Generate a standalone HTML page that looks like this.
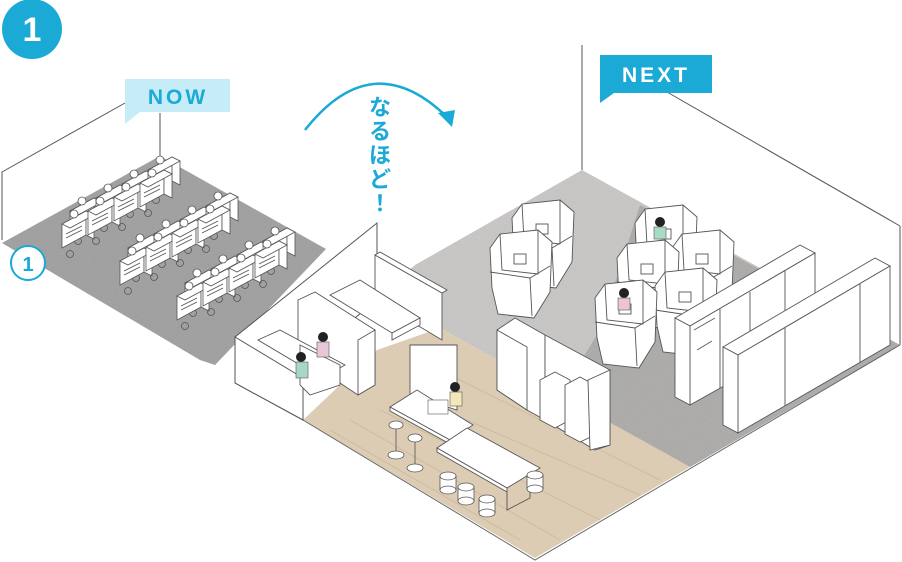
<!DOCTYPE html>
<html><head><meta charset="utf-8"><style>
html,body{margin:0;padding:0;background:#fff;}
svg{display:block;}
text{font-family:"Liberation Sans","Noto Sans CJK JP",sans-serif;}
</style></head><body>
<svg width="902" height="562" viewBox="0 0 902 562" xmlns="http://www.w3.org/2000/svg">
<defs>
<filter id="grain" x="0" y="0" width="100%" height="100%">
<feTurbulence type="fractalNoise" baseFrequency="0.9" numOctaves="2" result="n"/>
<feColorMatrix type="saturate" values="0"/>
<feComponentTransfer><feFuncA type="linear" slope="0.25"/></feComponentTransfer>
<feComposite in2="SourceGraphic" operator="in"/>
</filter>
<g id="cub" stroke="#555" stroke-width="0.8" fill="#fff">
<polygon points="0,0 0,-24 24,-37 24,-13"/>
<polygon points="24,-13 24,-37 32,-33 32,-9"/>
<polygon points="0,-24 8,-20 32,-33 24,-37"/>
<circle cx="12" cy="-34" r="4"/>
<line x1="4" y1="-10" x2="20" y2="-18"/>
<line x1="4" y1="-14" x2="20" y2="-22"/>
<circle cx="8" cy="6" r="3.5" fill="none"/>
</g>
<g id="pod" stroke="#555" stroke-width="0.9" fill="#fff">
<polygon points="0,18 10,4 48,0 62,12 60,62 44,88 8,84 2,58"/>
<polyline points="10,4 12,40 48,44 48,0" fill="none"/>
<polyline points="0,42 40,48 60,36" fill="none"/>
<line x1="40" y1="48" x2="42" y2="86"/>
<rect x="24" y="24" width="12" height="10"/>
</g>
<g id="stool" stroke="#555" stroke-width="0.8" fill="#fff">
<rect x="-8" y="0" width="16" height="14"/>
<ellipse cx="0" cy="0" rx="8" ry="4"/>
<ellipse cx="0" cy="14" rx="8" ry="4"/>
</g>
<g id="hstool" stroke="#555" stroke-width="0.8" fill="#fff">
<line x1="0" y1="0" x2="0" y2="30"/>
<ellipse cx="0" cy="30" rx="8" ry="4"/>
<ellipse cx="0" cy="0" rx="7" ry="4"/>
</g>
</defs>

<circle cx="32" cy="29" r="30" fill="#1ba9d5"/>
<text x="32" y="41" font-size="34" font-weight="bold" fill="#fff" text-anchor="middle">1</text>

<polyline points="2,240 2,172 125,103" fill="none" stroke="#555" stroke-width="1"/>
<line x1="160" y1="113" x2="160" y2="156" stroke="#555" stroke-width="1"/>
<polygon points="2,243 160,156 326,249 215,365 200,360" fill="#9d9d9d"/>
<polygon points="2,243 160,156 326,249 215,365 200,360" fill="#777" filter="url(#grain)"/>

<g>
<use href="#cub" x="70" y="235"/><use href="#cub" x="96" y="222"/><use href="#cub" x="122" y="208"/><use href="#cub" x="148" y="194"/>
<use href="#cub" x="62" y="248"/><use href="#cub" x="88" y="235"/><use href="#cub" x="114" y="221"/><use href="#cub" x="140" y="207"/>
<use href="#cub" x="128" y="272"/><use href="#cub" x="154" y="258"/><use href="#cub" x="180" y="244"/><use href="#cub" x="206" y="230"/>
<use href="#cub" x="120" y="285"/><use href="#cub" x="146" y="271"/><use href="#cub" x="172" y="257"/><use href="#cub" x="198" y="243"/>
<use href="#cub" x="185" y="307"/><use href="#cub" x="211" y="293"/><use href="#cub" x="237" y="279"/><use href="#cub" x="263" y="265"/>
<use href="#cub" x="177" y="320"/><use href="#cub" x="203" y="306"/><use href="#cub" x="229" y="292"/><use href="#cub" x="255" y="278"/>
</g>

<circle cx="28" cy="263" r="17" fill="#fff" stroke="#1ba9d5" stroke-width="2"/>
<text x="28" y="271" font-size="20" font-weight="bold" fill="#1ba9d5" text-anchor="middle">1</text>

<polygon points="125,79 230,79 230,112 140,112 125,124" fill="#c6ecf8"/>
<text x="178" y="104" font-size="21" font-weight="bold" fill="#1ba9d5" text-anchor="middle" letter-spacing="3">NOW</text>

<path d="M305,130 Q372,45 446,116" fill="none" stroke="#1ba9d5" stroke-width="2.5"/>
<polygon points="438,113 455,110 452,127" fill="#1ba9d5"/>
<g font-size="22" font-weight="bold" fill="#1ba9d5" text-anchor="middle">
<text x="380" y="115">な</text>
<text x="380" y="139">る</text>
<text x="380" y="163">ほ</text>
<text x="380" y="187">ど</text>
<text x="380" y="211">！</text>
</g>

<line x1="582" y1="45" x2="582" y2="170" stroke="#555" stroke-width="1"/>
<line x1="667" y1="92" x2="900" y2="226" stroke="#555" stroke-width="1"/>
<line x1="900" y1="226" x2="900" y2="345" stroke="#555" stroke-width="1"/>

<polygon points="582,170 900,345 690,467 440,328 377,300 415,265" fill="#c9c7c5"/>
<polygon points="640,205 900,345 690,467 560,395 600,330" fill="#aaa9a8"/>
<polygon points="582,170 900,345 690,467 440,328 377,300 415,265" fill="#666" filter="url(#grain)"/>
<polygon points="440,328 690,467 535,558 303,420 377,350" fill="#dcccb4"/>
<g stroke="#c7b598" stroke-width="1" opacity="0.7">
<line x1="330" y1="430" x2="520" y2="540"/><line x1="350" y1="420" x2="560" y2="540"/>
<line x1="380" y1="410" x2="600" y2="520"/><line x1="420" y1="400" x2="640" y2="495"/>
<line x1="440" y1="370" x2="660" y2="480"/>
</g>
<polyline points="303,420 535,560 900,345" fill="none" stroke="#666" stroke-width="1"/>

<polygon points="235,337 377,223 377,300 303,360 303,420 235,383" fill="#fff" stroke="#555" stroke-width="1"/>
<polygon points="235,337 303,378 303,420 235,383" fill="#fff" stroke="#555" stroke-width="1"/>

<g stroke="#555" stroke-width="0.9" fill="#fff">
<polygon points="375,255 442,293 442,340 375,300"/>
<polygon points="375,255 380,252 447,290 442,293"/>
<polygon points="330,295 360,280 420,318 392,333"/>
<polygon points="392,333 420,318 420,325 392,340"/>
<polygon points="298,300 315,292 375,330 375,385 358,395 298,355"/>
<polygon points="358,340 375,330 375,385 358,395"/>
<polygon points="258,340 280,330 345,365 322,378"/>
<polygon points="300,345 340,365 340,385 310,395 300,385"/>
<polygon points="410,345 457,345 457,410 410,395"/>
</g>
<circle cx="323" cy="337" r="5" fill="#222"/>
<rect x="317" y="342" width="12" height="15" fill="#e8c8d8" stroke="#555" stroke-width="0.6"/>
<circle cx="301" cy="357" r="5" fill="#222"/>
<rect x="296" y="362" width="12" height="16" fill="#a8d8c4" stroke="#555" stroke-width="0.6"/>

<g stroke="#555" stroke-width="0.9" fill="#fff">
<polygon points="390,407 417,390 473,425 450,440"/>
<polygon points="390,407 450,440 450,444 390,411"/>
<polygon points="437,448 467,428 540,468 507,488"/>
<polygon points="437,448 507,488 507,492 437,452"/>
<polyline points="507,492 507,510 530,498 530,478" fill="none"/>
</g>
<circle cx="455" cy="387" r="5" fill="#222"/>
<rect x="450" y="392" width="12" height="14" fill="#f4e8b8" stroke="#555" stroke-width="0.6"/>
<rect x="428" y="400" width="20" height="14" fill="#fff" stroke="#555" stroke-width="0.6"/>
<use href="#hstool" x="396" y="425"/>
<use href="#hstool" x="415" y="438"/>
<use href="#stool" x="448" y="476"/>
<use href="#stool" x="466" y="487"/>
<use href="#stool" x="487" y="499"/>
<use href="#stool" x="535" y="475"/>

<use href="#pod" x="512" y="200"/>
<use href="#pod" x="490" y="230"/>
<use href="#pod" x="635" y="205"/>
<use href="#pod" x="672" y="230"/>
<use href="#pod" x="617" y="240"/>
<use href="#pod" x="655" y="268"/>
<use href="#pod" x="595" y="280"/>
<circle cx="660" cy="222" r="5" fill="#222"/>
<rect x="654" y="227" width="12" height="12" fill="#a8dcc4" stroke="#555" stroke-width="0.6"/>
<circle cx="624" cy="293" r="5" fill="#222"/>
<rect x="618" y="298" width="12" height="12" fill="#eec4d4" stroke="#555" stroke-width="0.6"/>

<g stroke="#555" stroke-width="0.9" fill="#fff">
<polygon points="497,330 515,318 545,335 545,420 527,410 497,390"/>
<polygon points="497,330 527,347 527,410 497,390"/>
<polygon points="545,335 610,370 610,445 595,450 545,420"/>
<polygon points="540,380 555,372 570,380 570,420 555,428 540,420"/>
<polygon points="565,385 580,377 595,385 595,435 580,442 565,434"/>
<polygon points="588,380 610,370 610,445 590,450"/>
</g>

<g stroke="#555" stroke-width="0.9" fill="#fff">
<polygon points="675,318 800,245 815,253 690,326"/>
<polygon points="690,326 815,253 815,335 690,405"/>
<polygon points="675,318 690,326 690,405 675,397"/>
<line x1="720" y1="309" x2="720" y2="388"/><line x1="750" y1="292" x2="750" y2="370"/><line x1="785" y1="271" x2="785" y2="350"/>
<polygon points="723,347 875,258 890,266 738,355"/>
<polygon points="738,355 890,266 890,345 738,433"/>
<polygon points="723,347 738,355 738,433 723,425"/>
<line x1="785" y1="328" x2="785" y2="406"/><line x1="860" y1="284" x2="860" y2="362"/>
</g>
<g stroke="#555" stroke-width="0.8">
<line x1="694" y1="330" x2="715" y2="318"/><line x1="697" y1="350" x2="712" y2="341"/>
</g>

<polygon points="600,55 712,55 712,93 614,93 600,103" fill="#1ba9d5"/>
<text x="656" y="82" font-size="21" font-weight="bold" fill="#fff" text-anchor="middle" letter-spacing="3">NEXT</text>
</svg>
</body></html>
